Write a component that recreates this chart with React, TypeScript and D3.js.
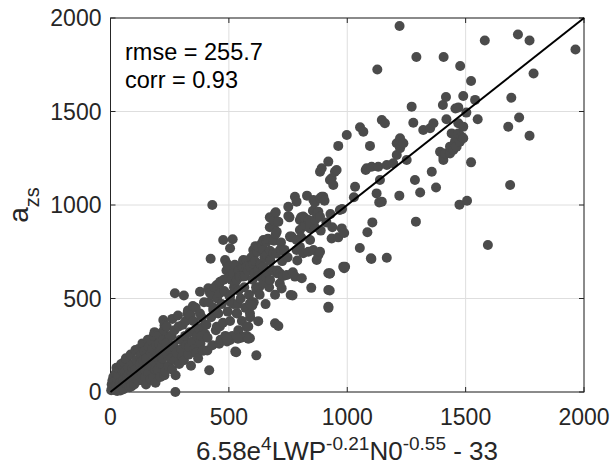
import React from 'react';
import * as d3 from 'd3';

const xTicks = [0, 500, 1000, 1500, 2000];
const yTicks = [0, 500, 1000, 1500, 2000];
const rmseText = 'rmse = 255.7';
const corrText = 'corr = 0.93';
const oneToOne: [number, number][] = [[0, 0], [2000, 2000]];

// [predicted, observed]
const lowCluster: [number, number][] = [
  [3,10],[5,40],[8,60],[10,20],[12,80],[15,55],[15,15],[18,30],[20,10],[22,100],[25,35],[25,130],[28,5],[30,70],[32,90],
  [35,20],[38,120],[40,50],[42,8],[45,90],[45,150],[48,140],[50,30],[52,110],[55,65],[55,15],[58,160],[60,110],[62,50],
  [65,45],[65,180],[68,175],[70,80],[72,40],[75,130],[78,95],[80,25],[85,60],[85,200],[88,30],[90,100],[92,130],[95,150],
  [98,75],[100,40],[105,120],[105,225],[110,170],[115,60],[118,230],[120,90],[125,150],[125,190],[128,110],[130,200],
  [135,260],[138,170],[140,60],[142,215],[145,120],[148,80],[150,180],[150,40],[155,230],[158,280],[160,100],[162,245],
  [165,140],[168,70],[170,210],[175,270],[178,230],[180,80],[182,300],[185,160],[186,320],[188,120],[190,190],[190,50],
  [195,250],[198,310],[200,120],[205,300],[205,260],[208,170],[210,220],[211,80],[215,150],[218,250],[220,180],[222,280],
  [223,385],[225,330],[228,356],[228,90],[230,110],[235,260],[238,350],[240,200],[245,140],[248,230],[250,300]
];

const midBand: [number, number][] = [
  [255,180],[258,300],[260,120],[261,391],[265,250],[268,240],[270,330],[272,170],[272,528],[275,90],[280,210],[285,409],
  [288,350],[290,150],[295,280],[300,230],[302,190],[305,360],[310,170],[310,516],[312,270],[315,300],[318,380],[320,250],
  [325,420],[327,436],[330,200],[332,240],[335,320],[338,410],[340,140],[345,270],[348,460],[350,380],[355,230],[358,330],
  [360,450],[362,210],[365,300],[370,180],[375,340],[378,420],[378,536],[380,260],[384,300],[385,400],[390,220],[392,350],
  [395,480],[400,310],[405,360],[409,222],[410,290],[413,555],[415,480],[420,530],[425,400],[428,520],[430,250],[434,439],
  [435,450],[440,560],[445,330],[448,430],[449,349],[449,572],[450,500],[455,420],[459,258],[460,580],[462,528],[462,350],
  [463,590],[465,280],[470,470],[475,370],[478,600],[480,540],[484,706],[485,300],[490,650],[491,688],[492,270],[495,430],
  [497,662],[498,670],[500,520],[500,614],[505,380],[505,278],[505,510],[508,480],[510,600],[515,300],[519,635],[520,470],
  [522,560],[525,578],[525,680],[530,550],[533,421],[533,599],[535,420],[538,470],[540,330],[541,543],[541,649],[545,620],
  [547,617],[550,500],[552,290],[555,380],[558,667],[560,700],[561,296],[561,617],[561,706],[565,560],[568,620],[570,450],
  [574,703],[574,294],[575,300],[575,349],[575,670],[580,650],[582,350],[585,520],[589,287],[589,420],[589,474],[589,670],
  [590,400],[595,720],[598,480],[600,600]
];

const upperBand: [number, number][] = [
  [603,688],[603,724],[603,759],[605,480],[607,632],[607,738],[610,700],[612,780],[615,560],[617,545],[617,759],[617,777],
  [620,750],[624,652],[624,774],[625,620],[628,560],[630,520],[632,685],[635,680],[639,795],[640,780],[645,600],[646,581],
  [646,652],[646,670],[646,759],[646,813],[648,809],[650,720],[655,470],[657,614],[660,640],[660,733],[660,804],[665,820],
  [670,560],[673,756],[673,881],[673,934],[674,599],[674,706],[675,700],[681,652],[681,929],[688,742],[688,813],[688,884],
  [690,649],[690,809],[690,916],[695,520],[695,956],[698,845],[698,961],[700,740],[702,635],[702,857],[705,650],[709,911],
  [715,580],[716,635],[716,759],[720,800],[723,554],[723,623],[723,756],[725,700],[730,620],[735,760],[745,626],[748,720],
  [751,941],[751,991],[756,934],[758,831],[764,827],[765,831],[770,640],[779,1044],[779,617],[786,1018],[786,759],[786,813],
  [789,703],[800,777],[800,866],[800,920],[805,827],[805,934],[808,608],[814,742],[814,884],[814,938],[822,893],[822,929],
  [830,1050],[836,750],[836,920],[838,916],[843,813],[843,875],[843,902],[855,969],[857,759],[857,1027],[863,881],[863,1014],
  [864,920],[871,706],[871,956],[875,952],[878,733],[878,964],[885,750],[885,937],[885,1036],[885,1178],[888,863],
  [892,1044],[892,1196],[899,1044],[904,1023],[912,907],[920,1232],[920,456],[920,545],[920,635],[927,1134],[927,635],
  [929,952],[934,1143],[934,821],[937,881],[941,1107],[948,1178],[955,1187],[962,1316],[962,827],[969,973],[977,875],
  [978,978],[983,670],[991,670],[998,1374]
];

const highBand: [number, number][] = [
  [1028,1041],[1033,1098],[1054,1416],[1068,1392],[1078,1187],[1082,1196],[1085,854],[1096,1316],[1100,715],[1103,1205],
  [1106,907],[1124,1062],[1127,1725],[1131,1205],[1135,1014],[1138,1134],[1146,1455],[1159,1437],[1146,1018],[1167,718],
  [1167,1214],[1194,1223],[1209,1267],[1209,1330],[1220,1050],[1221,1957],[1223,1357],[1223,1303],[1237,1330],[1251,1241],
  [1272,1526],[1279,1440],[1286,1134],[1290,911],[1292,1791],[1308,1067],[1321,1401],[1350,1410],[1364,1437],[1375,1094],
  [1357,1178],[1392,1285],[1404,1535],[1406,1241],[1406,1258],[1407,1791],[1413,1276],[1417,1578],[1419,1459],[1434,1276],
  [1434,1312],[1441,1383],[1448,1294],[1455,1339],[1457,1516],[1462,1312],[1469,1383],[1469,1437],[1469,1522],[1474,1002],
  [1476,1339],[1477,1743],[1483,1365],[1490,1357],[1490,1419],[1490,1583],[1503,1494],[1506,1023],[1523,1663],[1523,1228],
  [1540,1562],[1551,1459],[1581,1880],[1594,786],[1680,1418],[1688,1107],[1693,1574],[1721,1912],[1726,1468],[1770,1880],
  [1770,1370],[1787,1703],[1964,1832]
];

const outliers: [number, number][] = [
  [274,0],[417,116],[430,1000],[423,713],[476,813],[516,817],[505,769],[531,213],[527,216],[616,196],[599,463],[624,379],
  [492,285],[538,285],[582,285],[695,367],[709,353],[761,519],[769,516],[848,557],[926,632],[926,543],[921,450],
  [987,662],[987,850],[1053,770],[1102,711]
];

const allPoints = [...lowCluster, ...midBand, ...upperBand, ...highBand, ...outliers];

export default function App() {
  const W = 613;
  const H = 465;
  const left = 110.5, right = 584, top = 18, bottom = 392;
  const x = d3.scaleLinear().domain([0, 2000]).range([left, right]);
  const y = d3.scaleLinear().domain([0, 2000]).range([bottom, top]);
  const line = d3.line<[number, number]>().x(d => x(d[0])).y(d => y(d[1]));
  const axisColor = '#262626';
  const font = '"Liberation Sans", Arial, sans-serif';
  const tickLen = 5;

  return (
    <svg width={W} height={H} style={{ position: 'absolute', left: 0, top: 0, background: '#fff' }} fontFamily={font}>
      <rect x={0} y={0} width={W} height={H} fill="#fff" />
      {xTicks.map(t => (
        <line key={'gx' + t} x1={x(t)} x2={x(t)} y1={top} y2={bottom} stroke="#dedede" strokeWidth={1} />
      ))}
      {yTicks.map(t => (
        <line key={'gy' + t} x1={left} x2={right} y1={y(t)} y2={y(t)} stroke="#dedede" strokeWidth={1} />
      ))}
      <rect x={left} y={top} width={right - left} height={bottom - top} fill="none" stroke={axisColor} strokeWidth={1} />
      {xTicks.map(t => (
        <g key={'tx' + t}>
          <line x1={x(t)} x2={x(t)} y1={bottom} y2={bottom - tickLen} stroke={axisColor} />
          <line x1={x(t)} x2={x(t)} y1={top} y2={top + tickLen} stroke={axisColor} />
          <text x={x(t)} y={bottom + 33} textAnchor="middle" fontSize={23} fill={axisColor}>{t}</text>
        </g>
      ))}
      {yTicks.map(t => (
        <g key={'ty' + t}>
          <line x1={left} x2={left + tickLen} y1={y(t)} y2={y(t)} stroke={axisColor} />
          <line x1={right} x2={right - tickLen} y1={y(t)} y2={y(t)} stroke={axisColor} />
          <text x={left - 9} y={y(t) + 8} textAnchor="end" fontSize={23} fill={axisColor}>{t}</text>
        </g>
      ))}
      {allPoints.map((p, i) => (
        <circle key={i} cx={x(p[0])} cy={y(p[1])} r={5} fill="#4b4b4b" />
      ))}
      <path d={line(oneToOne) || ''} stroke="#000" strokeWidth={2} fill="none" />
      <text x={125} y={60} fontSize={23.5} fill="#000">{rmseText}</text>
      <text x={125} y={88} fontSize={23.5} fill="#000">{corrText}</text>
      <text transform={`translate(28, 205) rotate(-90)`} textAnchor="middle" fontSize={28} fill={axisColor}>
        a<tspan fontSize={20} dy={11}>zs</tspan>
      </text>
      <text x={347} y={460} textAnchor="middle" fontSize={26} fill={axisColor}>
        6.58e<tspan fontSize={19} dy={-10}>4</tspan>
        <tspan dy={10}>LWP</tspan>
        <tspan fontSize={19} dy={-10}>-0.21</tspan>
        <tspan dy={10}>N0</tspan>
        <tspan fontSize={19} dy={-10}>-0.55</tspan>
        <tspan dy={10}> - 33</tspan>
      </text>
    </svg>
  );
}
